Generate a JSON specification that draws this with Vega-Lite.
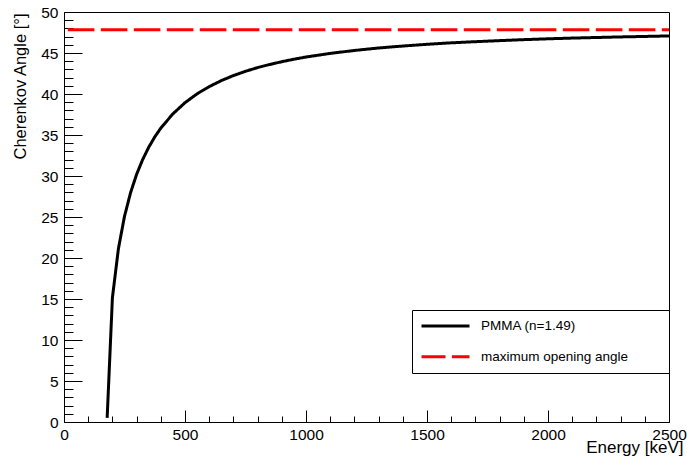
{
  "$schema": "https://vega.github.io/schema/vega-lite/v6.json",
  "width": 605,
  "height": 410,
  "autosize": {"type": "none"},
  "padding": {"left": 64, "top": 12, "right": 18, "bottom": 40},
  "background": "white",
  "config": {
    "view": {"stroke": "black", "strokeWidth": 1},
    "font": "Liberation Sans"
  },
  "data": {
    "values": [
      {"series": "PMMA (n=1.49)", "energy": 178.3, "angle": 0.5},
      {"series": "PMMA (n=1.49)", "energy": 200, "angle": 15.15},
      {"series": "PMMA (n=1.49)", "energy": 225, "angle": 21.17},
      {"series": "PMMA (n=1.49)", "energy": 250, "angle": 25.08},
      {"series": "PMMA (n=1.49)", "energy": 275, "angle": 27.96},
      {"series": "PMMA (n=1.49)", "energy": 300, "angle": 30.2},
      {"series": "PMMA (n=1.49)", "energy": 325, "angle": 32.0},
      {"series": "PMMA (n=1.49)", "energy": 350, "angle": 33.5},
      {"series": "PMMA (n=1.49)", "energy": 375, "angle": 34.76},
      {"series": "PMMA (n=1.49)", "energy": 400, "angle": 35.84},
      {"series": "PMMA (n=1.49)", "energy": 450, "angle": 37.58},
      {"series": "PMMA (n=1.49)", "energy": 500, "angle": 38.94},
      {"series": "PMMA (n=1.49)", "energy": 550, "angle": 40.02},
      {"series": "PMMA (n=1.49)", "energy": 600, "angle": 40.9},
      {"series": "PMMA (n=1.49)", "energy": 650, "angle": 41.63},
      {"series": "PMMA (n=1.49)", "energy": 700, "angle": 42.25},
      {"series": "PMMA (n=1.49)", "energy": 750, "angle": 42.77},
      {"series": "PMMA (n=1.49)", "energy": 800, "angle": 43.22},
      {"series": "PMMA (n=1.49)", "energy": 850, "angle": 43.6},
      {"series": "PMMA (n=1.49)", "energy": 900, "angle": 43.94},
      {"series": "PMMA (n=1.49)", "energy": 950, "angle": 44.24},
      {"series": "PMMA (n=1.49)", "energy": 1000, "angle": 44.51},
      {"series": "PMMA (n=1.49)", "energy": 1100, "angle": 44.95},
      {"series": "PMMA (n=1.49)", "energy": 1200, "angle": 45.31},
      {"series": "PMMA (n=1.49)", "energy": 1300, "angle": 45.61},
      {"series": "PMMA (n=1.49)", "energy": 1400, "angle": 45.85},
      {"series": "PMMA (n=1.49)", "energy": 1500, "angle": 46.06},
      {"series": "PMMA (n=1.49)", "energy": 1600, "angle": 46.24},
      {"series": "PMMA (n=1.49)", "energy": 1700, "angle": 46.38},
      {"series": "PMMA (n=1.49)", "energy": 1800, "angle": 46.51},
      {"series": "PMMA (n=1.49)", "energy": 1900, "angle": 46.63},
      {"series": "PMMA (n=1.49)", "energy": 2000, "angle": 46.73},
      {"series": "PMMA (n=1.49)", "energy": 2100, "angle": 46.82},
      {"series": "PMMA (n=1.49)", "energy": 2200, "angle": 46.89},
      {"series": "PMMA (n=1.49)", "energy": 2300, "angle": 46.96},
      {"series": "PMMA (n=1.49)", "energy": 2400, "angle": 47.02},
      {"series": "PMMA (n=1.49)", "energy": 2500, "angle": 47.08},
      {"series": "maximum opening angle", "energy": 0, "angle": 47.84},
      {"series": "maximum opening angle", "energy": 2500, "angle": 47.84}
    ]
  },
  "mark": {"type": "line", "strokeWidth": 3, "strokeDashOffset": 29.2, "strokeJoin": "round", "clip": true},
  "encoding": {
    "x": {
      "field": "energy",
      "type": "quantitative",
      "scale": {"domain": [0, 2500], "nice": false, "zero": false},
      "axis": {
        "title": "Energy [keV]",
        "values": [0,100,200,300,400,500,600,700,800,900,1000,1100,1200,1300,1400,1500,1600,1700,1800,1900,2000,2100,2200,2300,2400,2500],
        "format": "d",
        "labelExpr": "datum.value % 500 === 0 ? datum.label : ''",
        "tickSize": {"condition": {"test": "datum.value % 500 === 0", "value": -12}, "value": -6},
        "grid": false,
        "domainColor": "black",
        "tickColor": "black",
        "labelColor": "black",
        "labelFontSize": 15.5,
        "labelPadding": 17,
        "labelFlush": false,
        "labelOverlap": false,
        "titleFontSize": 17,
        "titleFontWeight": "normal",
        "titleColor": "black",
        "titleAlign": "right",
        "titleBaseline": "alphabetic",
        "titleX": 619,
        "titleY": 30
      }
    },
    "y": {
      "field": "angle",
      "type": "quantitative",
      "scale": {"domain": [0, 50], "nice": false},
      "axis": {
        "title": "Cherenkov Angle [°]",
        "values": [0,1,2,3,4,5,6,7,8,9,10,11,12,13,14,15,16,17,18,19,20,21,22,23,24,25,26,27,28,29,30,31,32,33,34,35,36,37,38,39,40,41,42,43,44,45,46,47,48,49,50],
        "labelExpr": "datum.value % 5 === 0 ? datum.label : ''",
        "tickSize": {"condition": {"test": "datum.value % 5 === 0", "value": -18}, "value": -9},
        "grid": false,
        "domainColor": "black",
        "tickColor": "black",
        "labelColor": "black",
        "labelFontSize": 15.5,
        "labelPadding": 24,
        "labelFlush": false,
        "labelOverlap": false,
        "titleFontSize": 16.5,
        "titleFontWeight": "normal",
        "titleColor": "black",
        "titleAngle": -90,
        "titleAlign": "right",
        "titleBaseline": "alphabetic",
        "titleX": -39,
        "titleY": 1
      }
    },
    "color": {
      "field": "series",
      "type": "nominal",
      "scale": {"domain": ["PMMA (n=1.49)", "maximum opening angle"], "range": ["black", "#ff0000"]},
      "legend": {
        "title": null,
        "orient": "none",
        "legendX": 348,
        "legendY": 298,
        "padding": 8,
        "symbolType": "stroke",
        "symbolSize": 2304,
        "symbolStrokeWidth": 3,
        "symbolDashOffset": 2.6,
        "clipHeight": 16,
        "rowPadding": 14.7,
        "labelOffset": 10,
        "labelFontSize": 13.5,
        "labelColor": "black",
        "labelLimit": 400,
        "strokeColor": "black",
        "fillColor": "white",
        "encode": {"entries": {"update": {"width": {"value": 241}}}}
      }
    },
    "strokeDash": {
      "field": "series",
      "type": "nominal",
      "scale": {"domain": ["PMMA (n=1.49)", "maximum opening angle"], "range": [[1, 0], [26.6, 6.4]]},
      "legend": {
        "title": null,
        "orient": "none",
        "legendX": 348,
        "legendY": 298,
        "padding": 8,
        "symbolType": "stroke",
        "symbolSize": 2304,
        "symbolStrokeWidth": 3,
        "symbolDashOffset": 2.6,
        "clipHeight": 16,
        "rowPadding": 14.7,
        "labelOffset": 10,
        "labelFontSize": 13.5,
        "labelColor": "black",
        "labelLimit": 400,
        "strokeColor": "black",
        "fillColor": "white",
        "encode": {"entries": {"update": {"width": {"value": 241}}}}
      }
    }
  }
}
